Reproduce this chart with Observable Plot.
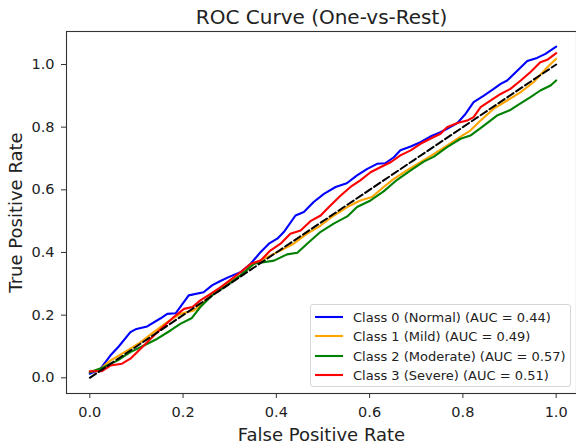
<!DOCTYPE html>
<html>
<head>
<meta charset="utf-8">
<script src="https://cdn.jsdelivr.net/npm/d3@7"></script>
<script src="https://cdn.jsdelivr.net/npm/@observablehq/plot@0.6"></script>
<style>
  html, body { margin: 0; padding: 0; background: #fff; }
  #wrap { position: relative; width: 576px; height: 448px; font-family: "DejaVu Sans", sans-serif; }
  #legend { position: absolute; left: 310px; top: 304px; width: 261px; height: 83px;
            border: 1px solid #d6d6d6; border-radius: 3px; background: rgba(255,255,255,0.85);
            box-sizing: border-box; }
  .row { position: absolute; left: 0; height: 20px; display: flex; align-items: center;
         font-size: 13px; color: #222; white-space: nowrap; }
  .sw { display: block; margin-left: 4px; margin-right: 10px; }
</style>
</head>
<body>
<div id="wrap"></div>
<script>
// ---- data ----
const classNames = ["Class 0 (Normal)", "Class 1 (Mild)", "Class 2 (Moderate)", "Class 3 (Severe)"];
const aucValues = [0.44, 0.49, 0.57, 0.51];

const fpr0 = [0, 0.023, 0.044, 0.062, 0.087, 0.10, 0.123, 0.152, 0.166, 0.184, 0.212, 0.244, 0.262, 0.28, 0.30, 0.323, 0.345, 0.366, 0.384, 0.402, 0.416, 0.441, 0.459, 0.48, 0.502, 0.527, 0.551, 0.573, 0.595, 0.616, 0.634, 0.652, 0.666, 0.688, 0.709, 0.73, 0.752, 0.766, 0.788, 0.806, 0.823, 0.845, 0.866, 0.881, 0.895, 0.916, 0.938, 0.959, 0.977, 1.0];
const tpr0 = [0.013, 0.029, 0.071, 0.10, 0.146, 0.156, 0.164, 0.19, 0.204, 0.206, 0.263, 0.273, 0.295, 0.309, 0.323, 0.337, 0.364, 0.401, 0.428, 0.444, 0.465, 0.518, 0.529, 0.561, 0.587, 0.609, 0.621, 0.646, 0.667, 0.683, 0.685, 0.704, 0.726, 0.738, 0.752, 0.77, 0.784, 0.795, 0.813, 0.843, 0.88, 0.901, 0.922, 0.938, 0.949, 0.979, 1.011, 1.021, 1.034, 1.057];

const fpr1 = [0, 0.023, 0.044, 0.08, 0.109, 0.137, 0.166, 0.194, 0.223, 0.244, 0.266, 0.294, 0.323, 0.352, 0.38, 0.409, 0.437, 0.466, 0.495, 0.523, 0.552, 0.58, 0.605, 0.63, 0.652, 0.68, 0.709, 0.738, 0.766, 0.795, 0.816, 0.838, 0.866, 0.895, 0.924, 0.952, 0.981, 1.0];
const tpr1 = [0.018, 0.029, 0.055, 0.087, 0.114, 0.146, 0.178, 0.204, 0.215, 0.241, 0.273, 0.30, 0.327, 0.364, 0.385, 0.406, 0.428, 0.46, 0.486, 0.518, 0.545, 0.566, 0.577, 0.609, 0.635, 0.662, 0.688, 0.715, 0.741, 0.77, 0.789, 0.821, 0.859, 0.885, 0.912, 0.944, 0.991, 1.018];

const fpr2 = [0, 0.03, 0.059, 0.087, 0.116, 0.144, 0.173, 0.194, 0.219, 0.237, 0.266, 0.294, 0.323, 0.352, 0.373, 0.395, 0.423, 0.445, 0.466, 0.495, 0.523, 0.552, 0.573, 0.602, 0.63, 0.659, 0.688, 0.716, 0.738, 0.766, 0.795, 0.816, 0.845, 0.873, 0.902, 0.916, 0.945, 0.966, 0.988, 1.0];
const tpr2 = [0.018, 0.034, 0.055, 0.082, 0.103, 0.124, 0.151, 0.172, 0.191, 0.226, 0.268, 0.295, 0.327, 0.364, 0.369, 0.374, 0.394, 0.399, 0.428, 0.466, 0.492, 0.515, 0.545, 0.566, 0.595, 0.632, 0.662, 0.69, 0.706, 0.736, 0.763, 0.773, 0.805, 0.837, 0.855, 0.869, 0.896, 0.917, 0.933, 0.949];

const fpr3 = [0, 0.026, 0.044, 0.069, 0.087, 0.109, 0.13, 0.152, 0.18, 0.202, 0.22, 0.237, 0.259, 0.28, 0.30, 0.323, 0.345, 0.366, 0.387, 0.409, 0.43, 0.452, 0.473, 0.495, 0.516, 0.538, 0.559, 0.58, 0.602, 0.623, 0.645, 0.666, 0.688, 0.709, 0.73, 0.752, 0.766, 0.788, 0.809, 0.823, 0.838, 0.859, 0.881, 0.902, 0.924, 0.945, 0.966, 0.981, 1.0];
const tpr3 = [0.021, 0.021, 0.039, 0.045, 0.061, 0.093, 0.124, 0.156, 0.194, 0.22, 0.226, 0.247, 0.268, 0.289, 0.311, 0.337, 0.364, 0.374, 0.406, 0.428, 0.46, 0.47, 0.50, 0.518, 0.55, 0.582, 0.609, 0.63, 0.656, 0.672, 0.688, 0.71, 0.726, 0.747, 0.763, 0.779, 0.80, 0.813, 0.821, 0.832, 0.864, 0.885, 0.906, 0.922, 0.949, 0.976, 1.007, 1.015, 1.036];

const chanceX = [0, 1];
const chanceY = [0, 1];
const xTicks = [0, 0.2, 0.4, 0.6, 0.8, 1.0];
const yTicks = [0, 0.2, 0.4, 0.6, 0.8, 1.0];

const titleText = "ROC Curve (One-vs-Rest)";
const xLabel = "False Positive Rate";
const yLabel = "True Positive Rate";

// ---- styling ----
const classColors = ["#0000ff", "#ffa500", "#008000", "#ff0000"];

// ---- build tidy table ----
const fprs = [fpr0, fpr1, fpr2, fpr3];
const tprs = [tpr0, tpr1, tpr2, tpr3];
const rows = [];
classNames.forEach((c, i) => {
  fprs[i].forEach((f, j) => rows.push({cls: c, fpr: f, tpr: tprs[i][j]}));
});
const chance = chanceX.map((x, i) => ({fpr: x, tpr: chanceY[i]}));

const fmt = d3.format(".1f");

const chart = Plot.plot({
  width: 576,
  height: 448,
  marginLeft: 66,
  marginRight: 0,
  marginTop: 31,
  marginBottom: 55,
  style: {fontFamily: "DejaVu Sans", color: "#222", background: "white"},
  x: {domain: [-0.05, 1.0436]},
  y: {domain: [-0.0501, 1.1053]},
  color: {domain: classNames, range: classColors},
  marks: [
    Plot.line(rows, {x: "fpr", y: "tpr", z: "cls", stroke: "cls", strokeWidth: 2.1, curve: "linear"}),
    Plot.line(chance, {x: "fpr", y: "tpr", stroke: "black", strokeWidth: 2, strokeDasharray: "7.5,3.2"}),
    Plot.frame({stroke: "#333", strokeWidth: 1.1}),
    Plot.axisX({ticks: xTicks, tickFormat: fmt, tickSize: 5, tickPadding: 8, fontSize: 14.5, label: null, stroke: "#333"}),
    Plot.axisY({ticks: yTicks, tickFormat: fmt, tickSize: 5, tickPadding: 7, fontSize: 14.5, label: null, stroke: "#333"}),
    Plot.text([titleText], {frameAnchor: "top", lineAnchor: "bottom", dy: -8, fontSize: 20, fill: "#222"}),
    Plot.text([xLabel], {frameAnchor: "bottom", lineAnchor: "bottom", dy: 47, fontSize: 18, fill: "#222"}),
    Plot.text([yLabel], {frameAnchor: "left", textAnchor: "middle", lineAnchor: "bottom", rotate: -90, dx: -44.5, fontSize: 18, fill: "#222"})
  ]
});

const wrap = document.getElementById("wrap");
wrap.appendChild(chart);

// legend
const legend = document.createElement("div");
legend.id = "legend";
const svgNS = "http://www.w3.org/2000/svg";
classNames.forEach((c, i) => {
  const row = document.createElement("div");
  row.className = "row";
  row.style.top = Math.round(1.5 + i * 19.5) + "px";
  const sw = document.createElementNS(svgNS, "svg");
  sw.setAttribute("class", "sw");
  sw.setAttribute("width", "28");
  sw.setAttribute("height", "6");
  const ln = document.createElementNS(svgNS, "line");
  ln.setAttribute("x1", "0"); ln.setAttribute("x2", "28");
  ln.setAttribute("y1", "3"); ln.setAttribute("y2", "3");
  ln.setAttribute("stroke", classColors[i]);
  ln.setAttribute("stroke-width", "2.1");
  sw.appendChild(ln);
  const t = document.createElement("span");
  t.textContent = `${c} (AUC = ${aucValues[i].toFixed(2)})`;
  row.appendChild(sw);
  row.appendChild(t);
  legend.appendChild(row);
});
wrap.appendChild(legend);
</script>
</body>
</html>
